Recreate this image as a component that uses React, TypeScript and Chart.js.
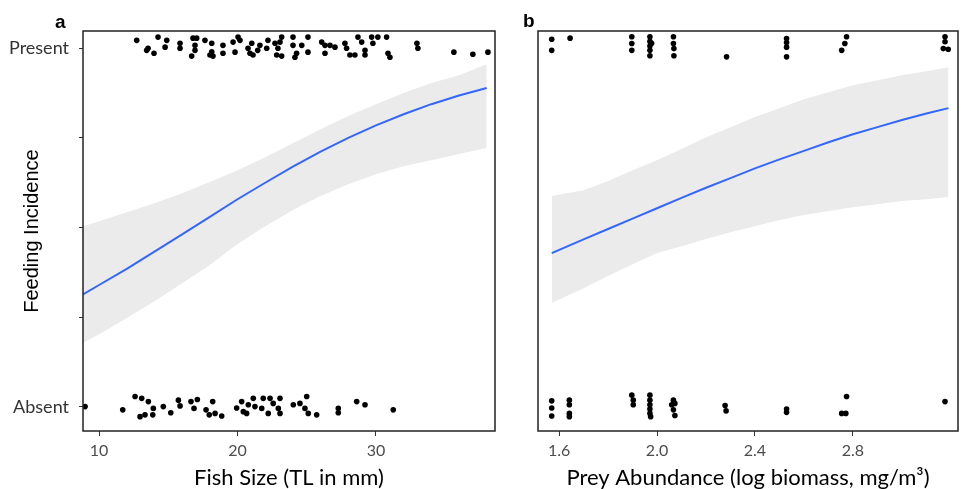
import React, { useEffect, useRef } from "react";
import { Chart, registerables } from "chart.js";

Chart.register(...registerables);

// ---------- axis ticks ----------
const sizeTicks = [10, 20, 30];
const preyTicks = [1.6, 2.0, 2.4, 2.8];
const incidenceTicks = [0, 0.25, 0.5, 0.75, 1];

// ---------- panel a: fish size ----------
const sizePresentX = [12.72, 13.54, 13.44, 13.97, 14.26, 14.89, 14.77, 15.85, 15.85, 16.69, 16.79, 17.05, 16.93, 16.93, 17.65, 18.14, 18.14, 18.01, 18.23, 18.95, 18.95, 19.68, 20.04, 20.18, 19.82, 20.76, 20.9, 21.03, 21.12, 21.62, 21.46, 22.2, 22.11, 22.71, 23.07, 23.19, 22.92, 22.83, 23.19, 24.01, 24.01, 24.27, 24.15, 24.64, 25.09, 25.09, 26.08, 26.32, 26.68, 27.04, 26.32, 27.76, 27.88, 28.12, 28.48, 28.7, 28.97, 29.21, 29.21, 29.69, 30.14, 29.78, 30.77, 30.87, 31.01, 32.96, 33.03, 35.63, 37.0, 38.09];
const sizePresentY = [1.022, 1.0, 0.994, 0.986, 1.031, 1.022, 1.003, 1.014, 1.0, 0.978, 1.028, 1.028, 1.008, 0.994, 1.022, 1.014, 0.99, 0.981, 0.978, 1.008, 0.986, 1.017, 1.031, 1.022, 0.989, 1.0, 0.986, 1.014, 0.981, 1.008, 0.994, 1.022, 1.0, 1.014, 1.017, 1.031, 1.0, 0.981, 0.978, 1.031, 1.008, 0.986, 0.975, 1.008, 1.031, 0.989, 1.017, 1.008, 1.008, 1.003, 0.986, 1.014, 1.0, 0.981, 0.981, 1.031, 1.017, 0.994, 0.981, 1.031, 1.031, 1.014, 1.031, 0.986, 0.975, 1.014, 1.0, 0.989, 0.983, 0.989];
const sizeAbsentX = [8.99, 11.71, 12.6, 13.08, 13.56, 12.96, 13.32, 13.88, 13.92, 14.64, 15.18, 15.73, 15.85, 16.64, 17.1, 16.86, 17.73, 17.96, 18.21, 18.38, 18.86, 19.94, 20.3, 20.42, 20.78, 20.66, 21.14, 21.26, 21.86, 22.35, 21.75, 22.22, 22.58, 23.07, 22.95, 23.07, 24.03, 24.51, 24.87, 25.0, 25.11, 25.72, 27.28, 27.28, 28.61, 29.21, 31.25];
const sizeAbsentY = [0.001, -0.008, 0.029, 0.024, 0.015, -0.027, -0.022, -0.022, -0.004, 0.001, -0.016, 0.019, 0.003, 0.015, 0.021, -0.004, -0.008, -0.022, 0.015, -0.018, -0.025, -0.003, 0.015, -0.013, 0.006, -0.018, 0.024, 0.001, 0.024, 0.024, -0.004, -0.018, 0.01, 0.024, -0.004, -0.018, 0.006, 0.01, -0.004, 0.029, -0.018, -0.022, -0.004, -0.016, 0.015, 0.006, -0.008];
const sizeFitX = [8.84, 10, 12, 14, 16, 18, 20, 22, 24, 26, 28, 30, 32, 34, 36, 38.0];
const sizeFit = [0.314, 0.34, 0.385, 0.433, 0.481, 0.53, 0.579, 0.625, 0.67, 0.712, 0.75, 0.785, 0.816, 0.844, 0.868, 0.889];
const sizeUpper = [0.504, 0.518, 0.543, 0.568, 0.596, 0.627, 0.66, 0.696, 0.735, 0.774, 0.811, 0.844, 0.875, 0.903, 0.925, 0.955];
const sizeLower = [0.178, 0.203, 0.248, 0.295, 0.345, 0.396, 0.454, 0.504, 0.549, 0.588, 0.621, 0.649, 0.671, 0.688, 0.705, 0.722];

// ---------- panel b: prey abundance ----------
const preyPresentX = [1.57, 1.57, 1.645, 1.897, 1.897, 1.897, 1.971, 1.971, 1.971, 1.971, 1.971, 1.978, 2.067, 2.067, 2.069, 2.069, 2.284, 2.529, 2.529, 2.529, 2.529, 2.774, 2.767, 2.754, 3.176, 3.176, 3.169, 3.189];
const preyPresentY = [1.025, 0.994, 1.028, 1.032, 1.013, 0.994, 1.032, 1.019, 1.006, 0.994, 0.979, 1.014, 1.032, 1.013, 0.999, 0.979, 0.976, 1.027, 1.016, 1.003, 0.976, 1.032, 1.013, 0.994, 1.032, 1.018, 0.999, 0.997];
const preyAbsentX = [1.57, 1.57, 1.57, 1.642, 1.642, 1.642, 1.642, 1.897, 1.903, 1.903, 1.971, 1.971, 1.971, 1.971, 1.971, 1.974, 2.067, 2.06, 2.073, 2.067, 2.073, 2.278, 2.282, 2.529, 2.529, 2.774, 2.754, 2.771, 3.176];
const preyAbsentY = [0.017, -0.003, -0.025, 0.019, 0.006, -0.018, -0.027, 0.033, 0.019, 0.006, 0.033, 0.019, 0.006, -0.006, -0.018, -0.027, 0.019, 0.006, 0.01, -0.008, -0.024, 0.004, -0.011, -0.006, -0.015, 0.029, -0.018, -0.018, 0.015];
const preyFitX = [1.57, 1.7, 1.8, 1.9, 2.0, 2.1, 2.2, 2.3, 2.4, 2.5, 2.6, 2.7, 2.8, 2.9, 3.0, 3.1, 3.19];
const preyFit = [0.429, 0.467, 0.496, 0.525, 0.554, 0.583, 0.611, 0.638, 0.665, 0.69, 0.714, 0.738, 0.76, 0.78, 0.8, 0.818, 0.833];
const preyUpper = [0.588, 0.604, 0.63, 0.66, 0.688, 0.719, 0.752, 0.78, 0.808, 0.833, 0.858, 0.877, 0.897, 0.911, 0.925, 0.936, 0.947];
const preyLower = [0.29, 0.331, 0.365, 0.398, 0.429, 0.448, 0.468, 0.487, 0.504, 0.521, 0.535, 0.546, 0.557, 0.565, 0.574, 0.579, 0.585];

const pair = (xs: number[], ys: number[]) => xs.map((x, i) => ({ x, y: ys[i] }));

const framePlugin = {
  id: "frame",
  afterDatasetsDraw(chart: any, _args: any, opts: any) {
    const { ctx, chartArea: a } = chart;
    ctx.save();
    ctx.strokeStyle = "#222";
    ctx.lineWidth = 1.5;
    ctx.strokeRect(a.left, a.top, a.right - a.left, a.bottom - a.top);
    ctx.fillStyle = "#000";
    ctx.font = 'bold 19px "Liberation Sans", Arial, sans-serif';
    ctx.textBaseline = "alphabetic";
    ctx.textAlign = "left";
    ctx.fillText(opts.label, opts.lx, opts.ly);
    ctx.restore();
  },
};

type PanelProps = {
  width: number;
  left: number;
  label: string;
  lx: number;
  ly: number;
  xMin: number;
  xMax: number;
  xTicks: number[];
  xFmt: (v: number) => string;
  xTitle: string;
  yAxisWidth: number;
  showY: boolean;
  padRight: number;
  presentX: number[];
  presentY: number[];
  absentX: number[];
  absentY: number[];
  fitX: number[];
  fit: number[];
  upper: number[];
  lower: number[];
};

function Panel(p: PanelProps) {
  const ref = useRef<HTMLCanvasElement | null>(null);
  useEffect(() => {
    if (!ref.current) return;
    const points = [...pair(p.presentX, p.presentY), ...pair(p.absentX, p.absentY)];
    const chart = new Chart(ref.current, {
      type: "scatter",
      data: {
        datasets: [
          {
            data: points,
            pointRadius: 2.8,
            pointHoverRadius: 2.8,
            backgroundColor: "#000",
            borderWidth: 0,
            order: 0,
          } as any,
          {
            data: pair(p.fitX, p.fit),
            showLine: true,
            borderColor: "#3366FF",
            borderWidth: 2,
            pointRadius: 0,
            fill: false,
            order: 1,
          },
          {
            data: pair(p.fitX, p.upper),
            showLine: true,
            borderColor: "rgba(0,0,0,0)",
            borderWidth: 0,
            pointRadius: 0,
            backgroundColor: "#ebebeb",
            fill: "+1",
            order: 2,
          },
          {
            data: pair(p.fitX, p.lower),
            showLine: true,
            borderColor: "rgba(0,0,0,0)",
            borderWidth: 0,
            pointRadius: 0,
            fill: false,
            order: 3,
          },
        ],
      },
      options: {
        responsive: false,
        animation: false,
        devicePixelRatio: 1,
        layout: { padding: { top: 31, right: p.padRight, bottom: 0, left: 0 } },
        plugins: {
          legend: { display: false },
          tooltip: { enabled: false },
          frame: { label: p.label, lx: p.lx, ly: p.ly },
        } as any,
        scales: {
          x: {
            type: "linear",
            min: p.xMin,
            max: p.xMax,
            afterBuildTicks: (s: any) => {
              s.ticks = p.xTicks.map((v) => ({ value: v }));
            },
            afterFit: (s: any) => {
              s.height = 58;
            },
            grid: {
              display: true,
              drawOnChartArea: false,
              drawTicks: true,
              tickLength: 5,
              color: "#333",
              lineWidth: 1,
            },
            border: { display: false },
            ticks: {
              font: { size: 16, family: "Lato" },
              color: "#4d4d4d",
              padding: 5,
              maxRotation: 0,
              autoSkip: false,
              callback: (v: any) => p.xFmt(Number(v)),
            },
            title: {
              display: true,
              text: p.xTitle,
              color: "#000",
              font: { size: 22, family: "Lato", lineHeight: 1 },
              padding: { top: 0, bottom: 0 },
            },
          },
          y: {
            type: "linear",
            min: -0.067,
            max: 1.048,
            afterBuildTicks: (s: any) => {
              s.ticks = incidenceTicks.map((v) => ({ value: v }));
            },
            afterFit: (s: any) => {
              s.width = p.yAxisWidth;
            },
            grid: {
              display: p.showY,
              drawOnChartArea: false,
              drawTicks: true,
              tickLength: 4,
              color: "#333",
              lineWidth: 1,
            },
            border: { display: false },
            ticks: {
              display: p.showY,
              autoSkip: false,
              font: { size: 18, family: "Lato" },
              color: "#333",
              padding: 10,
              callback: (v: any) => (Number(v) === 1 ? "Present" : Number(v) === 0 ? "Absent" : ""),
            },
            title: {
              display: p.showY,
              text: "Feeding Incidence",
              color: "#000",
              font: { size: 20, family: '"Liberation Sans", Arial, sans-serif', lineHeight: 1 },
              padding: { top: 22, bottom: 0 },
            },
          },
        },
      },
      plugins: [framePlugin],
    });
    return () => chart.destroy();
  }, []);
  return (
    <canvas
      ref={ref}
      width={p.width}
      height={489}
      style={{ position: "absolute", left: p.left, top: 0, width: p.width, height: 489 }}
    />
  );
}

export default function App() {
  return (
    <div style={{ position: "fixed", left: 0, top: 0, width: 965, height: 489, background: "#fff", overflow: "hidden" }}>
      <Panel
        width={500}
        left={0}
        label="a"
        lx={55}
        ly={28}
        xMin={8.84}
        xMax={38.6}
        xTicks={sizeTicks}
        xFmt={(v) => String(v)}
        xTitle="Fish Size (TL in mm)"
        yAxisWidth={83}
        showY={true}
        padRight={5}
        presentX={sizePresentX}
        presentY={sizePresentY}
        absentX={sizeAbsentX}
        absentY={sizeAbsentY}
        fitX={sizeFitX}
        fit={sizeFit}
        upper={sizeUpper}
        lower={sizeLower}
      />
      <Panel
        width={465}
        left={500}
        label="b"
        lx={23}
        ly={27}
        xMin={1.514}
        xMax={3.229}
        xTicks={preyTicks}
        xFmt={(v) => v.toFixed(1)}
        xTitle="Prey Abundance (log biomass, mg/m³)"
        yAxisWidth={38}
        showY={false}
        padRight={7}
        presentX={preyPresentX}
        presentY={preyPresentY}
        absentX={preyAbsentX}
        absentY={preyAbsentY}
        fitX={preyFitX}
        fit={preyFit}
        upper={preyUpper}
        lower={preyLower}
      />
    </div>
  );
}
